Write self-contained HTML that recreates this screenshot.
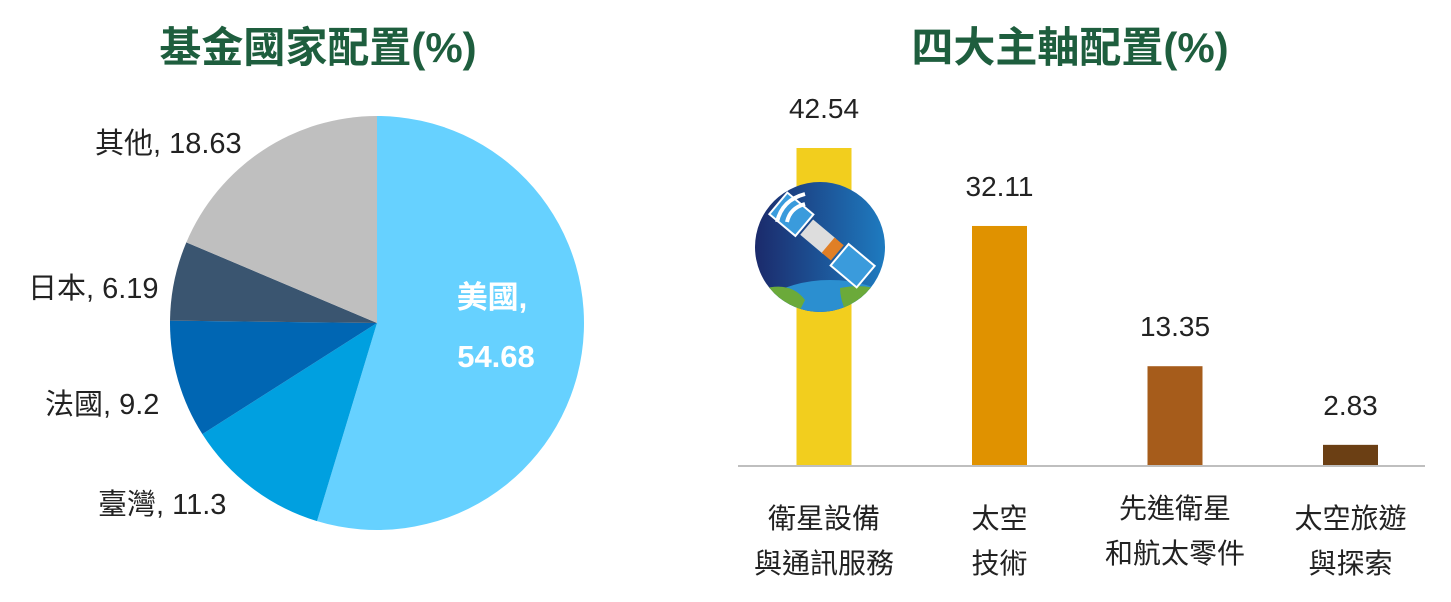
<!DOCTYPE html>
<html><head><meta charset="utf-8"><style>
html,body{margin:0;padding:0;background:#fff;width:1451px;height:602px;overflow:hidden;font-family:"Liberation Sans","Noto Sans CJK TC",sans-serif}
</style></head><body>
<svg width="1451" height="602" xmlns="http://www.w3.org/2000/svg">
<text x="318" y="62" text-anchor="middle" font-size="42" font-weight="bold" fill="#1E5E3E" font-family="Liberation Sans,Noto Sans CJK TC,sans-serif">基金國家配置(%)</text>
<text x="1070" y="62" text-anchor="middle" font-size="42" font-weight="bold" fill="#1E5E3E" font-family="Liberation Sans,Noto Sans CJK TC,sans-serif">四大主軸配置(%)</text>
<g id="pie"></g>
<g id="bars"></g>
<line x1="738" y1="466" x2="1425" y2="466" stroke="#BFBFBF" stroke-width="2"/>
<g id="sat">
<defs><linearGradient id="sky" x1="0" x2="1"><stop offset="0" stop-color="#1B2A6B"/><stop offset="1" stop-color="#1E7BC0"/></linearGradient>
<clipPath id="cc"><circle cx="820" cy="247" r="65"/></clipPath></defs>
<circle cx="820" cy="247" r="65" fill="url(#sky)"/>
<g clip-path="url(#cc)"><ellipse cx="830" cy="345" rx="95" ry="65" fill="#2B8FD0"/>
<path d="M760 290 Q790 280 805 300 L795 320 L760 320Z" fill="#6BAA3A"/>
<path d="M840 288 Q870 282 890 295 L890 320 L850 320 Q840 302 840 288Z" fill="#6BAA3A"/>
<g transform="rotate(-50 822 240)">
<rect x="807" y="182" width="30" height="36" fill="#fff"/><rect x="809" y="184" width="26" height="32" fill="#3A9BDC"/>
<rect x="807" y="262" width="30" height="36" fill="#fff"/><rect x="809" y="264" width="26" height="32" fill="#3A9BDC"/>
<rect x="812" y="220" width="20" height="30" fill="#ddd"/><rect x="812" y="248" width="20" height="12" fill="#E07F26"/></g>
</g>
<path d="M777 222 Q782 200 805 194" stroke="#fff" stroke-width="4" fill="none"/>
<path d="M787 222 Q790 208 805 204" stroke="#fff" stroke-width="4" fill="none"/>
</g>
<script>
var sliceNames=["美國","臺灣","法國","日本","其他"];
var sliceValues=[54.68,11.3,9.2,6.19,18.63];
var sliceColors=["#66D1FF","#00A0E0","#0066B3","#3A5570","#BFBFBF"];
var barCats=[["衛星設備","與通訊服務"],["太空","技術"],["先進衛星","和航太零件"],["太空旅遊","與探索"]];
var barValues=[42.54,32.11,13.35,2.83];
var barLabels=["42.54","32.11","13.35","2.83"];
var barColors=["#F2CE1E","#E09200","#A65C1B","#6B3F14"];
var NS="http://www.w3.org/2000/svg";
function mk(t,a,p){var e=document.createElementNS(NS,t);for(var k in a)e.setAttribute(k,a[k]);p.appendChild(e);return e;}
var pie=document.getElementById("pie");
var cx=377,cy=323,r=207,tot=sliceValues.reduce(function(a,b){return a+b},0),ang=0;
var labelPos=[null,[98,514],[45,414],[28,298],[95,153]];
sliceValues.forEach(function(v,i){
 var a0=ang,a1=ang+v/tot*2*Math.PI;ang=a1;
 var x0=cx+r*Math.sin(a0),y0=cy-r*Math.cos(a0),x1=cx+r*Math.sin(a1),y1=cy-r*Math.cos(a1);
 var p=mk("path",{d:"M"+cx+" "+cy+"L"+x0+" "+y0+"A"+r+" "+r+" 0 "+((a1-a0)>Math.PI?1:0)+" 1 "+x1+" "+y1+"Z",fill:sliceColors[i]},pie);
 
 
 if(i===0){
  var t=mk("text",{x:492,y:308,"text-anchor":"middle","font-size":"31","font-weight":"bold",fill:"#fff"},pie);t.textContent=sliceNames[i]+",";
  
  
  var t2=mk("text",{x:496,y:367,"text-anchor":"middle","font-size":"31","font-weight":"bold",fill:"#fff"},pie);t2.textContent=String(v);
  
  
 } else {
  var t=mk("text",{x:labelPos[i][0],y:labelPos[i][1],"font-size":"29",fill:"#222"},pie);t.textContent=sliceNames[i]+", "+v;
  
  
 }
});
var g=document.getElementById("bars");
var base=466,scale=318/42.54,bw=55;
function xc(i){return 824+i*175.5;}
function yv(v){return base-v*scale;}
barValues.forEach(function(v,i){
 var b=mk("rect",{x:xc(i)-bw/2,y:yv(v),width:bw,height:base-yv(v),fill:barColors[i]},g);
 
 
 var t=mk("text",{x:xc(i),y:yv(v)-30,"text-anchor":"middle","font-size":"28",fill:"#222"},g);t.textContent=barLabels[i];
 
 
 barCats[i].forEach(function(s,j){
  var c=mk("text",{x:xc(i),y:(i===2?518:528)+j*45,"text-anchor":"middle","font-size":"28",fill:"#222"},g);c.textContent=s;
  
  
 });
});
g.parentNode.appendChild(document.getElementById("sat"));
</script>
</svg>
</body></html>
